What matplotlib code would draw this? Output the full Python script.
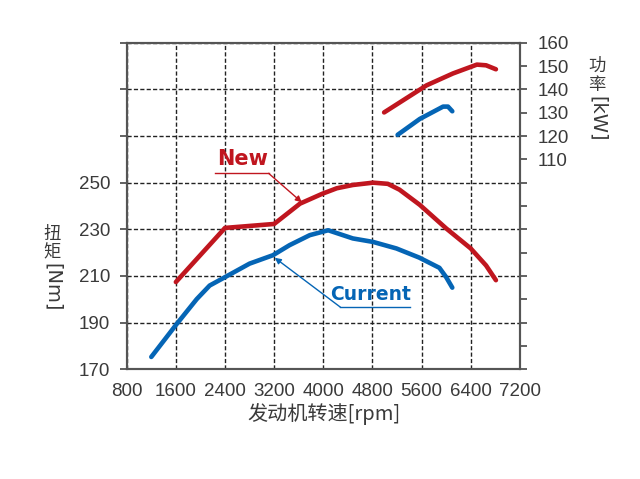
import matplotlib
matplotlib.use("Agg")
import matplotlib.pyplot as plt
from matplotlib import font_manager

# torque curves [Nm] vs engine speed [rpm]
new_torque_rpm = [1600, 2400, 3200, 3620, 3980, 4220, 4480, 4810, 5050, 5240, 5570, 6000, 6400, 6650, 6810]
new_torque = [207.4, 230.6, 232.3, 241.0, 245.2, 247.6, 249.0, 250.0, 249.5, 247.0, 240.5, 230.4, 221.8, 214.5, 208.2]

cur_torque_rpm = [1200, 1610, 1940, 2150, 2400, 2800, 3180, 3450, 3780, 4080, 4480, 4810, 5190, 5560, 5890, 6000, 6100]
cur_torque = [175.3, 189.3, 200.1, 205.9, 209.5, 215.3, 218.9, 223.2, 227.5, 229.6, 226.1, 224.6, 221.8, 217.9, 213.5, 209.5, 205.0]

# power curves [kW]
new_power_rpm = [4990, 5680, 6110, 6500, 6650, 6810]
new_power = [130.1, 141.7, 146.8, 150.6, 150.3, 148.6]

cur_power_rpm = [5210, 5570, 5950, 6030, 6100]
cur_power = [120.5, 127.3, 132.6, 132.6, 130.6]

rpm_ticks = [800, 1600, 2400, 3200, 4000, 4800, 5600, 6400, 7200]
torque_ticks = [170, 190, 210, 230, 250, 270, 290, 310]
torque_labels = ["170", "190", "210", "230", "250", "", "", ""]
power_ticks = list(range(20, 161, 10))
power_labels = [str(p) if p >= 110 else "" for p in power_ticks]

RED = "#c0161f"
BLUE = "#0565b5"
GRAY = "#555555"
TXT = "#3a3a3a"

names = {f.name for f in font_manager.fontManager.ttflist}
narrow = "Liberation Sans Narrow" if "Liberation Sans Narrow" in names else "Liberation Sans"
cjk = ["Noto Sans CJK SC", "DejaVu Sans"]

fig = plt.figure(figsize=(6.4, 4.79), dpi=100)
ax = fig.add_axes([0.198, 0.229, 0.6143, 0.6819])
ax2 = ax.twinx()

ax.set_xlim(800, 7200)
ax.set_ylim(170, 310)
ax2.set_ylim(20, 160)

ax.set_xticks(rpm_ticks)
ax.set_xticklabels([str(r) for r in rpm_ticks], fontfamily=narrow, fontsize=13.5, color=TXT)
ax.set_yticks(torque_ticks)
ax.set_yticklabels(torque_labels, fontfamily="Liberation Sans", fontsize=13.5, color=TXT)
ax2.set_yticks(power_ticks)
ax2.set_yticklabels(power_labels, fontfamily="Liberation Sans", fontsize=13.5, color=TXT)

ax.tick_params(axis="x", length=0, pad=10)
ax.tick_params(axis="y", direction="out", length=5, width=1.3, color=GRAY, pad=7)
ax2.tick_params(axis="y", direction="out", length=5, width=1.3, color=GRAY, pad=8)

for a in (ax, ax2):
    for s in a.spines.values():
        s.set_color(GRAY)
        s.set_linewidth(1.5)

ax.grid(True, color="#222222", linewidth=1.0, linestyle=(0, (3, 1.6)))
ax.set_axisbelow(True)

# curves
ax.plot(new_torque_rpm, new_torque, color=RED, lw=3.3, solid_capstyle="round", solid_joinstyle="round")
ax.plot(cur_torque_rpm, cur_torque, color=BLUE, lw=3.3, solid_capstyle="round", solid_joinstyle="round")
ax2.plot(new_power_rpm, new_power, color=RED, lw=3.3, solid_capstyle="round", solid_joinstyle="round")
ax2.plot(cur_power_rpm, cur_power, color=BLUE, lw=3.3, solid_capstyle="round", solid_joinstyle="round")

# annotations
ax.text(2680, 260, "New", color=RED, fontsize=15, fontweight="bold", ha="center", va="center",
        family="DejaVu Sans")
ax.plot([2240, 3110], [254, 254], color=RED, lw=1.0)
ax.annotate("", xy=(3650, 241.6), xytext=(3110, 254),
            arrowprops=dict(arrowstyle="-|>", color=RED, lw=1.0, mutation_scale=9, shrinkA=0, shrinkB=0))

ax.text(4770, 202, "Current", color=BLUE, fontsize=13.5, fontweight="bold", ha="center", va="center",
        family="DejaVu Sans")
ax.plot([4280, 5410], [196.6, 196.6], color=BLUE, lw=1.0)
ax.annotate("", xy=(3210, 217.8), xytext=(4280, 196.6),
            arrowprops=dict(arrowstyle="-|>", color=BLUE, lw=1.0, mutation_scale=9, shrinkA=0, shrinkB=0))

# axis labels
fig.text(324 / 640, 1 - 414 / 479, "发动机转速[rpm]", family=cjk, fontsize=14.5, color=TXT,
         ha="center", va="center")


def vlabel(x, y_chars, y_latin, chars, latin):
    for ch, yc in zip(chars, y_chars):
        fig.text(x / 640, 1 - yc / 479, ch, family=cjk, fontsize=12.5, color=TXT, ha="center", va="center")
    fig.text(x / 640, 1 - y_latin / 479, latin, family="DejaVu Sans", fontsize=14, color=TXT,
             ha="center", va="top", rotation=-90)


vlabel(52, [233.5, 252], 263, "扭矩", "[Nm]")
vlabel(597, [66, 85], 96, "功率", "[kW]")

fig.savefig("out.png", dpi=100)
